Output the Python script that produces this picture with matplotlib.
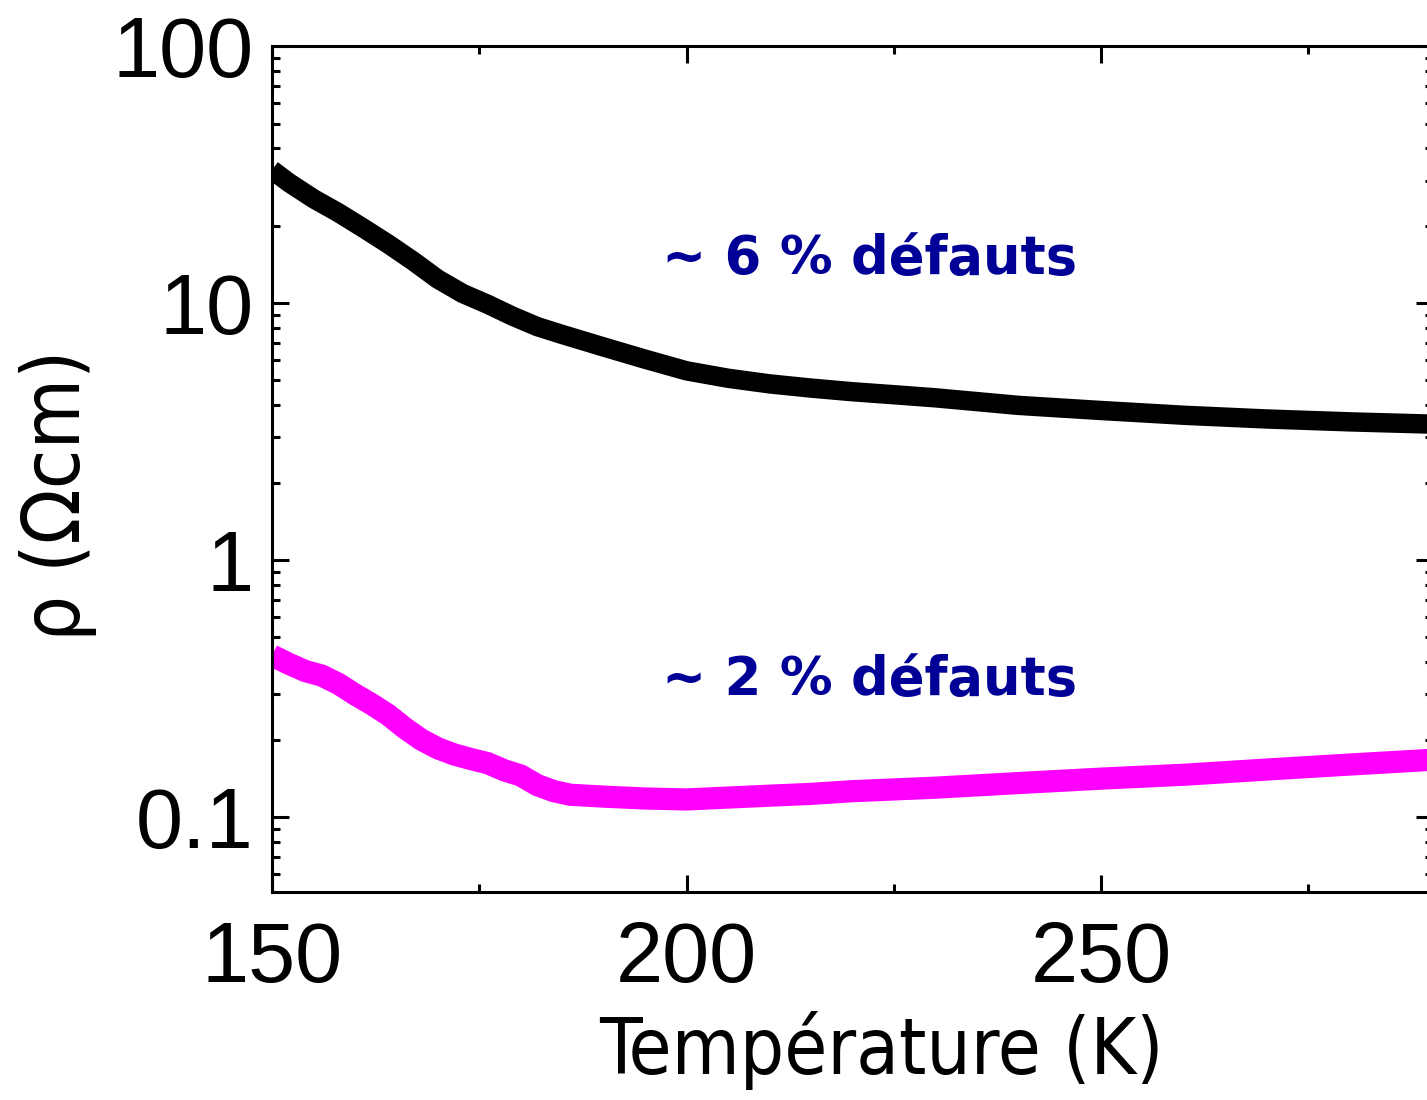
import matplotlib
matplotlib.use("Agg")
import matplotlib.pyplot as plt
from matplotlib.ticker import LogLocator, MultipleLocator, FixedLocator, NullFormatter
from matplotlib import font_manager

# Temperature (K) and resistivity (Ohm cm) for the two samples
temp_6pct = [150, 152, 155, 158, 161, 164, 167, 170, 173, 176, 179, 182, 185, 190, 195, 200,
             205, 210, 215, 220, 225, 230, 240, 250, 260, 270, 280, 290]
rho_6pct = [33.0, 29.5, 25.5, 22.5, 19.6, 17.0, 14.6, 12.4, 10.9, 9.9, 8.9, 8.1, 7.55, 6.75,
            6.05, 5.45, 5.1, 4.85, 4.67, 4.52, 4.40, 4.28, 4.00, 3.82, 3.66, 3.54, 3.45, 3.38]

temp_2pct = [150, 152, 154, 156, 158, 160, 162, 164, 166, 168, 170, 172, 174, 176, 178, 180,
             182, 184, 186, 190, 195, 200, 205, 210, 215, 220, 230, 240, 250, 260, 270, 280,
             290]
rho_2pct = [0.425, 0.395, 0.37, 0.355, 0.33, 0.30, 0.275, 0.25, 0.222, 0.20, 0.185, 0.175,
            0.168, 0.162, 0.152, 0.145, 0.133, 0.126, 0.122, 0.120, 0.118, 0.117, 0.119,
            0.121, 0.123, 0.126, 0.130, 0.1355, 0.141, 0.146, 0.153, 0.160, 0.167]

label_6pct = "~ 6 % défauts"
label_2pct = "~ 2 % défauts"
x_major = [150, 200, 250]
y_major = [0.1, 1, 10, 100]
y_major_labels = ["0.1", "1", "10", "100"]

tick_font = "Liberation Sans"
cond = font_manager.FontProperties(family="DejaVu Sans", stretch="condensed")
cond_path = font_manager.findfont(cond, fallback_to_default=True)
if "ondensed" in cond_path:
    xlabel_props = dict(fontproperties=font_manager.FontProperties(fname=cond_path, size=56))
    ylabel_props = dict(fontproperties=font_manager.FontProperties(fname=cond_path, size=58))
else:
    xlabel_props = dict(family="Liberation Sans", fontsize=54)
    ylabel_props = dict(family="Liberation Sans", fontsize=58)

fig = plt.figure(figsize=(14.27, 11.0), dpi=100)
ax = fig.add_axes([0.1906, 0.189, 0.8135, 0.769])

ax.plot(temp_6pct, rho_6pct, color="black", lw=14, solid_capstyle="butt", solid_joinstyle="miter")
ax.plot(temp_2pct, rho_2pct, color="#ff00ff", lw=16, solid_capstyle="butt", solid_joinstyle="miter")

ax.set_yscale("log")
ax.set_xlim(150, 290)
ax.set_ylim(0.051, 100)

ax.xaxis.set_major_locator(FixedLocator(x_major))
ax.xaxis.set_minor_locator(MultipleLocator(25))
ax.yaxis.set_major_locator(FixedLocator(y_major))
ax.yaxis.set_minor_locator(LogLocator(base=10, subs=range(2, 10), numticks=20))
ax.yaxis.set_minor_formatter(NullFormatter())
ax.set_xticklabels([str(v) for v in x_major])
ax.set_yticklabels(y_major_labels)

ax.tick_params(which="both", direction="in", top=True, right=True, width=2.2, color="black")
ax.tick_params(which="major", length=12)
ax.tick_params(which="minor", length=6)
ax.tick_params(axis="x", which="major", pad=20, labelsize=61)
ax.tick_params(axis="y", which="major", pad=13, labelsize=61)
for lbl in ax.get_xticklabels() + ax.get_yticklabels():
    lbl.set_family(tick_font)
for sp in ax.spines.values():
    sp.set_linewidth(2.2)

ax.set_xlabel("Température (K)", **xlabel_props)
ax.set_ylabel("ρ (Ωcm)", **ylabel_props)
ax.xaxis.set_label_coords(0.525, -0.141)
ax.yaxis.set_label_coords(-0.151, 0.469)

ax.text(247.1, 14.8, label_6pct, fontsize=38, fontweight="bold", color="#000096",
        family="DejaVu Sans", ha="right", va="center")
ax.text(247.1, 0.34, label_2pct, fontsize=38, fontweight="bold", color="#000096",
        family="DejaVu Sans", ha="right", va="center")

fig.savefig("out.png", dpi=100)
